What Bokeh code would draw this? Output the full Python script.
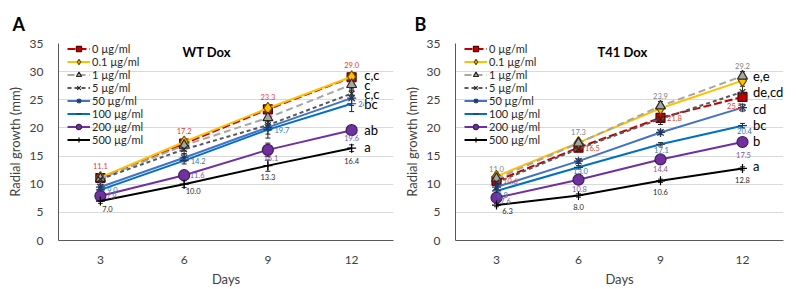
from bokeh.plotting import figure
from bokeh.layouts import row
from bokeh.models import (ColumnDataSource, Legend, LegendItem, Label, Whisker,
                          TeeHead, FixedTicker, Range1d)
from bokeh.core.properties import value
from bokeh.embed import file_html
from bokeh.resources import INLINE

FONT = "Lato"

# ---------------- data ----------------
days = [3, 6, 9, 12]
series_names = ["0 µg/ml", "0.1 µg/ml", "1 µg/ml", "5 µg/ml",
                "50 µg/ml", "100 µg/ml", "200 µg/ml", "500 µg/ml"]

# Panel A: WT Dox
wt_0 = [11.1, 17.2, 23.3, 29.0]
wt_01 = [11.2, 17.5, 23.5, 29.1]
wt_1 = [11.0, 16.9, 21.8, 27.7]
wt_5 = [10.9, 16.2, 20.5, 26.1]
wt_50 = [9.5, 14.7, 20.1, 25.3]
wt_100 = [9.0, 14.2, 19.7, 24.3]
wt_200 = [7.9, 11.6, 16.1, 19.6]
wt_500 = [7.0, 10.0, 13.3, 16.4]

wt_err_0 = [0.4, 0.5, 0.6, 0.5]
wt_err_01 = [0.3, 0.4, 0.5, 0.5]
wt_err_1 = [0.5, 1.0, 1.4, 0.8]
wt_err_5 = [0.5, 0.8, 1.0, 1.0]
wt_err_50 = [0.5, 0.7, 1.2, 1.3]
wt_err_100 = [0.5, 0.6, 1.5, 1.4]
wt_err_200 = [0.4, 0.6, 1.2, 0.5]
wt_err_500 = [0.4, 0.6, 1.0, 0.6]

wt_letters = ["c,c", "c", "c,c", "bc", "ab", "a"]
wt_letter_y = [29.4, 27.7, 26.0, 24.3, 19.6, 16.6]

# Panel B: T41 Dox
t41_0 = [10.6, 16.5, 21.8, 25.5]
t41_01 = [11.4, 17.4, 23.5, 28.4]
t41_1 = [11.0, 17.3, 23.9, 29.2]
t41_5 = [10.3, 16.3, 21.6, 26.4]
t41_50 = [9.5, 14.1, 19.2, 23.6]
t41_100 = [8.8, 13.0, 17.1, 20.4]
t41_200 = [7.6, 10.8, 14.4, 17.5]
t41_500 = [6.3, 8.0, 10.6, 12.8]

t41_err_0 = [0.5, 0.5, 1.2, 0.5]
t41_err_01 = [0.4, 0.5, 0.6, 0.5]
t41_err_1 = [0.6, 0.6, 0.8, 0.8]
t41_err_5 = [0.5, 0.5, 0.6, 1.0]
t41_err_50 = [0.4, 0.4, 0.4, 0.6]
t41_err_100 = [0.3, 0.3, 0.3, 0.4]
t41_err_200 = [0.3, 0.3, 0.3, 0.3]
t41_err_500 = [0.3, 0.3, 0.3, 0.3]

t41_letters = ["e,e", "de,cd", "cd", "bc", "b", "a"]
t41_letter_y = [29.2, 26.4, 23.3, 20.6, 17.7, 13.3]

y_ticks = [0, 5, 10, 15, 20, 25, 30, 35]

# ---------------- styles ----------------
STYLES = [
    dict(color="#C00000", dash="8 3", marker="square", mfill="#C00000", mline="#5A0000", size=9),
    dict(color="#FFC000", dash="solid", marker="diamond", mfill="#FFC000", mline="#6B5000", size=12),
    dict(color="#A6A6A6", dash="7 4", marker="triangle", mfill="#A6A6A6", mline="#262626", size=10),
    dict(color="#595959", dash="4 3", marker="x", mfill="#262626", mline="#262626", size=8),
    dict(color="#4472C4", dash="solid", marker="asterisk", mfill="#1F3864", mline="#1F3864", size=9),
    dict(color="#0070C0", dash="solid", marker="dash", mfill="#1F3864", mline="#1F3864", size=9),
    dict(color="#7030A0", dash="solid", marker="circle", mfill="#7030A0", mline="#3F1E5A", size=11),
    dict(color="#000000", dash="solid", marker="cross", mfill="#000000", mline="#000000", size=9),
]


def make_panel(width, border_left, border_right, letter, title, title_dx, letter_dx,
               series, errors, letters, letter_y, label_specs, letter_x, letter_bg):
    p = figure(width=width, height=289, output_backend="svg", toolbar_location=None,
               x_range=Range1d(1.5, 13.5), y_range=Range1d(0, 35),
               min_border_left=border_left, min_border_right=border_right,
               min_border_top=43, min_border_bottom=45)
    p.title.text = letter
    p.title.text_font = FONT
    p.title.text_font_size = "18px"
    p.title.text_font_style = "bold"
    p.title.text_color = "#000000"
    p.title.align = "left"
    p.title.offset = letter_dx
    p.title.standoff = 18
    p.outline_line_color = None
    p.background_fill_color = "white"
    p.xgrid.grid_line_color = None
    p.ygrid.grid_line_color = "#D9D9D9"
    p.ygrid.grid_line_width = 1
    p.yaxis.ticker = FixedTicker(ticks=y_ticks)
    p.xaxis.ticker = FixedTicker(ticks=days)
    for ax in (p.xaxis[0], p.yaxis[0]):
        ax.major_tick_line_color = None
        ax.minor_tick_line_color = None
        ax.axis_line_color = "#595959"
        ax.axis_line_width = 1
        ax.major_label_text_font = FONT
        ax.major_label_text_font_size = "12px"
        ax.major_label_text_color = "#404040"
        ax.axis_label_text_font = FONT
        ax.axis_label_text_font_size = "13px"
        ax.axis_label_text_font_style = "normal"
        ax.axis_label_text_color = "#404040"
    p.yaxis.axis_label = "Radial growth (mm)"
    p.xaxis.axis_label = "Days"
    p.yaxis.major_label_standoff = 9
    p.yaxis.axis_label_standoff = 4
    p.xaxis.major_label_standoff = 9
    p.xaxis.axis_label_standoff = 4

    items = []
    for name, vals, err, st in zip(series_names, series, errors, STYLES):
        src = ColumnDataSource(dict(
            x=days, y=vals,
            upper=[v + e for v, e in zip(vals, err)],
            lower=[v - e for v, e in zip(vals, err)]))
        lr = p.line("x", "y", source=src, line_color=st["color"], line_width=2,
                    line_dash=st["dash"])
        wk = Whisker(source=src, base="x", upper="upper", lower="lower",
                     line_color="#262626", line_width=1,
                     upper_head=TeeHead(size=5, line_color="#262626", line_width=1),
                     lower_head=TeeHead(size=5, line_color="#262626", line_width=1))
        p.add_layout(wk)
        sr = p.scatter("x", "y", source=src, marker=st["marker"], size=st["size"],
                       fill_color=st["mfill"], line_color=st["mline"], line_width=1.2)
        items.append(LegendItem(label=name, renderers=[lr, sr]))

    # data labels
    for idx, color, dxs, dys in label_specs:
        vals = series[idx]
        src = ColumnDataSource(dict(x=days, y=vals, t=["%.1f" % v for v in vals],
                                    dx=dxs, dy=dys))
        p.text("x", "y", text="t", source=src, x_offset="dx", y_offset="dy",
               text_font=value(FONT), text_font_size="7.5px", text_color=color,
               text_align="center", text_baseline="middle")

    # significance letters (drawn bottom-up so upper letters stay on top)
    lsrc = ColumnDataSource(dict(x=[letter_x] * len(letters), y=letter_y[::-1],
                                 t=letters[::-1], bga=letter_bg[::-1]))
    p.text("x", "y", text="t", source=lsrc, text_font=value(FONT),
           text_font_size="13px", text_color="#000000", text_align="left",
           text_baseline="middle", background_fill_color="white",
           background_fill_alpha="bga")

    legend = Legend(items=items, location=(9, 94), padding=0, margin=0, spacing=0,
                    label_height=13, glyph_height=13, glyph_width=23,
                    label_standoff=2, label_text_font=FONT,
                    label_text_font_size="11px", label_text_color="#262626",
                    border_line_color=None, background_fill_alpha=0)
    p.add_layout(legend)

    p.add_layout(Label(x=title_dx, y=189, x_units="screen", y_units="screen", text=title,
                       text_font=FONT, text_font_size="13px", text_font_style="bold",
                       text_baseline="middle", text_color="#000000"))
    return p


RED = "#E03C31"
BLUE = "#2E75B6"
PURPLE = "#7D5BA6"
BLACK = "#262626"
GRAY = "#7F7F7F"

pA = make_panel(
    400, 58, 7, "A", "WT Dox", 124, -46,
    [wt_0, wt_01, wt_1, wt_5, wt_50, wt_100, wt_200, wt_500],
    [wt_err_0, wt_err_01, wt_err_1, wt_err_5, wt_err_50, wt_err_100, wt_err_200, wt_err_500],
    wt_letters, wt_letter_y,
    [
        (0, RED, [0, 0, 0, 0], [-12, -13, -12, -12]),
        (5, BLUE, [12, 14, 14, 14], [0, 0, 0, 0]),
        (6, PURPLE, [11, 13, 3, 0], [0, 0, 8, 8]),
        (7, BLACK, [7, 9, 0, 0], [8, 7, 11, 13]),
    ],
    12.45, [0, 0, 0, 1, 0, 0],
)

pB = make_panel(
    397, 46, 14, "B", "T41 Dox", 142, -41,
    [t41_0, t41_01, t41_1, t41_5, t41_50, t41_100, t41_200, t41_500],
    [t41_err_0, t41_err_01, t41_err_1, t41_err_5, t41_err_50, t41_err_100, t41_err_200, t41_err_500],
    t41_letters, t41_letter_y,
    [
        (2, GRAY, [0, 0, 0, 0], [-10, -11, -10, -10]),
        (0, RED, [14, 14, 14, -8], [0, 0, 0, 9]),
        (5, BLUE, [6, 2, 1, 2], [4, 4, 6, 5]),
        (6, PURPLE, [9, 1, 0, 1], [3, 9, 10, 13]),
        (7, BLACK, [11, 0, 0, 0], [6, 12, 11, 12]),
    ],
    12.38, [0, 0, 0, 0, 0, 0],
)

layout = row(pA, pB)
open("out.html", "w").write(file_html(layout, INLINE))
